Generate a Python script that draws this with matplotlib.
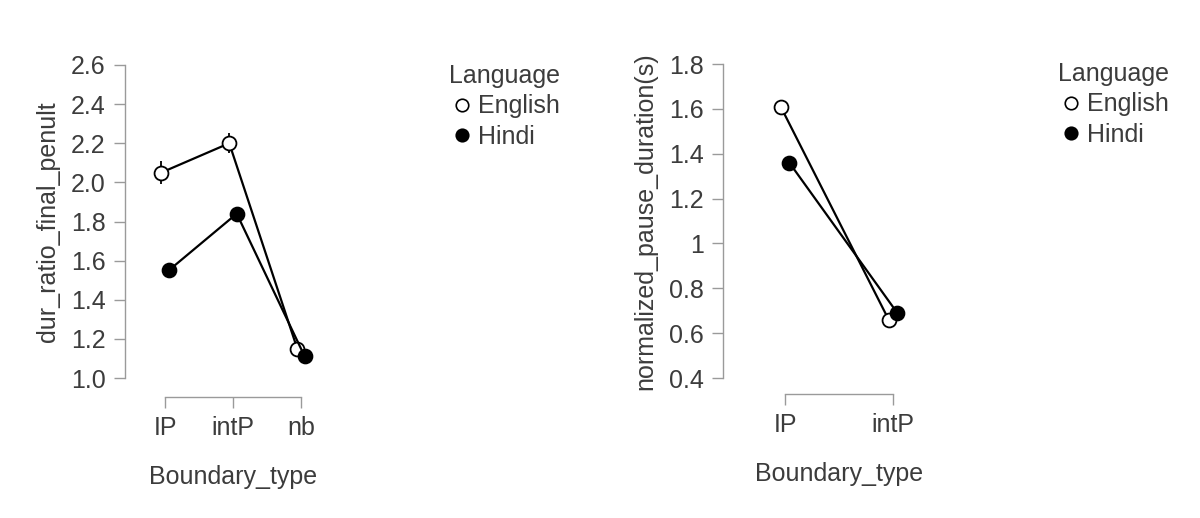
import matplotlib
matplotlib.use("Agg")
import matplotlib.pyplot as plt
from matplotlib.lines import Line2D
import numpy as np

plt.rcParams['font.family'] = ['Liberation Sans', 'DejaVu Sans']

# ---- data ----
cats_left = ["IP", "intP", "nb"]
eng_left = [2.05, 2.20, 1.15]
hin_left = [1.55, 1.84, 1.11]
eng_left_err = [0.06, 0.05, 0.02]
hin_left_err = [0.02, 0.02, 0.01]
yticks_left = [1.0, 1.2, 1.4, 1.6, 1.8, 2.0, 2.2, 2.4, 2.6]
yticklabels_left = ["1.0", "1.2", "1.4", "1.6", "1.8", "2.0", "2.2", "2.4", "2.6"]

cats_right = ["IP", "intP"]
eng_right = [1.61, 0.66]
hin_right = [1.36, 0.69]
eng_right_err = [0.02, 0.01]
hin_right_err = [0.02, 0.01]
yticks_right = [0.4, 0.6, 0.8, 1.0, 1.2, 1.4, 1.6, 1.8]
yticklabels_right = ["0.4", "0.6", "0.8", "1", "1.2", "1.4", "1.6", "1.8"]

series_names = ["English", "Hindi"]
series_fill = ["white", "black"]

W, H = 1200, 518
fig = plt.figure(figsize=(12, 5.18), dpi=100)

TXT = '#3c3c3c'
SPN = '#9a9a9a'
FS = 18
PT = 0.72  # points per pixel at dpi 100


def px_axes(x0, x1, y_top, y_bot):
    return fig.add_axes([x0 / W, 1 - y_bot / H, (x1 - x0) / W, (y_bot - y_top) / H])


def style(ax, ncat, yticks, ylabels, ylab, yoff, xoff, ylpad, xlpad):
    for s in ['top', 'right']:
        ax.spines[s].set_visible(False)
    ax.spines['left'].set_position(('outward', yoff * PT))
    ax.spines['bottom'].set_position(('outward', xoff * PT))
    ax.spines['left'].set_bounds(yticks[0], yticks[-1])
    ax.spines['bottom'].set_bounds(0, ncat - 1)
    for s in ['left', 'bottom']:
        ax.spines[s].set_color(SPN)
        ax.spines[s].set_linewidth(1.0)
    ax.set_yticks(yticks)
    ax.set_yticklabels(ylabels)
    ax.tick_params(axis='both', colors=SPN, labelcolor=TXT, labelsize=FS,
                   length=8, width=1.0, pad=6)
    ax.set_ylabel(ylab, fontsize=FS, color=TXT, labelpad=ylpad)
    ax.set_xlabel("Boundary_type", fontsize=FS, color=TXT, labelpad=xlpad)
    ax.patch.set_visible(False)


def draw(ax, cats, eng, hin, eerr, herr, dodge):
    x = np.arange(len(cats))
    for vals, err, fill, off in [(eng, eerr, series_fill[0], -dodge),
                                 (hin, herr, series_fill[1], dodge)]:
        ax.errorbar(x + off, vals, yerr=err, color='black', lw=1.6, marker='o',
                    ms=10, mfc=fill, mec='black', mew=1.3, capsize=0,
                    elinewidth=1.3, zorder=3)
    ax.set_xticks(x)
    ax.set_xticklabels(cats)


# Left panel: IP at 165px, nb at 301px (68 px/unit); y 1.0 @378, 2.6 @65
axL = px_axes(140, 326, 65, 378)
axL.set_xlim(-(165 - 140) / 68, 2 + (326 - 301) / 68)
axL.set_ylim(1.0, 2.6)
draw(axL, cats_left, eng_left, hin_left, eng_left_err, hin_left_err, 0.055)
style(axL, 3, yticks_left, yticklabels_left, "dur_ratio_final_penult", 15, 19, 8, 18)

# Right panel: IP at 785, intP at 893 (108 px/unit); y 0.4 @378, 1.8 @64
axR = px_axes(745, 933, 64, 378)
axR.set_xlim(-(785 - 745) / 108, 1 + (933 - 893) / 108)
axR.set_ylim(0.4, 1.8)
draw(axR, cats_right, eng_right, hin_right, eng_right_err, hin_right_err, 0.04)
style(axR, 2, yticks_right, yticklabels_right, "normalized_pause_duration(s)", 22, 16, 8, 18)


def legend(xpx, ypx):
    handles = [Line2D([], [], lw=0, marker='o', ms=9, mfc=f, mec='black', mew=1.2)
               for f in series_fill]
    leg = fig.legend(handles, series_names, title="Language", loc='upper left',
                     bbox_to_anchor=(xpx / W, 1 - ypx / H), frameon=False,
                     fontsize=FS, title_fontsize=FS, handlelength=1.0,
                     handletextpad=0.15, labelspacing=0.25, borderaxespad=0,
                     borderpad=0, labelcolor=TXT)
    leg.get_title().set_color(TXT)
    leg._legend_box.align = "left"
    return leg


legend(449, 64)
legend(1058, 62)

fig.savefig("out.png", dpi=100)
